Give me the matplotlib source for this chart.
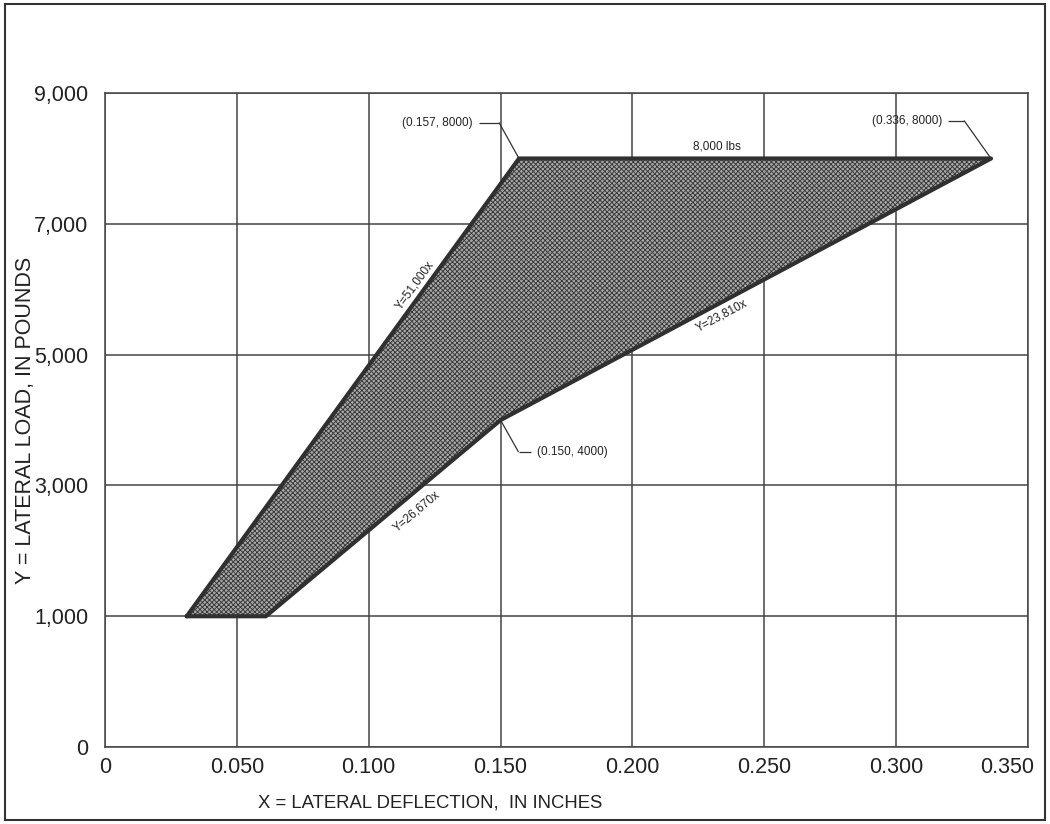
import matplotlib
matplotlib.use("Agg")
import matplotlib.pyplot as plt
import matplotlib.transforms as mtrans
import numpy as np
from matplotlib.patches import Polygon, Rectangle

plt.rcParams['font.family'] = ['Liberation Sans', 'DejaVu Sans']
plt.rcParams['hatch.linewidth'] = 0.7

# Data: envelope vertices (deflection in inches, load in pounds)
env_x = [0.031, 0.157, 0.336, 0.150, 0.061]
env_y = [1000, 8000, 8000, 4000, 1000]

x_ticks = [0, 0.05, 0.10, 0.15, 0.20, 0.25, 0.30, 0.35]
x_ticklabels = ['0', '0.050', '0.100', '0.150', '0.200', '0.250', '0.300', '0.350']
# the bottom row of the original grid is labelled 0 (one grid step below 1,000)
y_ticks = [-1000, 1000, 3000, 5000, 7000, 9000]
y_ticklabels = ['0', '1,000', '3,000', '5,000', '7,000', '9,000']

vertex_labels = ['(0.157, 8000)', '(0.336, 8000)', '(0.150, 4000)']
edge_labels = ['Y=51,000x', 'Y=23,810x', 'Y=26,670x']
top_label = '8,000 lbs'

fig = plt.figure(figsize=(10.5, 8.24), dpi=100)
fig.patch.set_facecolor('white')
ax = fig.add_axes([0.100, 0.0934, 0.879, 0.7936])
ax.set_xlim(0, 0.35)
ax.set_ylim(-1000, 9000)

ax.set_xticks(x_ticks)
ax.set_xticklabels(x_ticklabels, fontsize=15.5, color='#222222')
ax.set_yticks(y_ticks)
ax.set_yticklabels(y_ticklabels, fontsize=15.5, color='#222222')
ax.tick_params(length=0, pad=7)
ax.tick_params(axis='y', pad=12)
lab = ax.get_xticklabels()[-1]
lab.set_transform(lab.get_transform() + mtrans.ScaledTranslation(-0.21, 0, fig.dpi_scale_trans))
ax.grid(True, color='#444444', linewidth=1.1)
ax.set_axisbelow(True)
for s in ax.spines.values():
    s.set_color('#444444')
    s.set_linewidth(1.1)

pts = np.column_stack([env_x, env_y])
poly = Polygon(pts, closed=True, facecolor='#a9a9a9', edgecolor='#3c3c3c',
               hatch='xxxxxxx', linewidth=0, zorder=3)
ax.add_patch(poly)
ax.plot(env_x + [env_x[0]], env_y + [env_y[0]], color='#303030', lw=3,
        solid_joinstyle='round', solid_capstyle='round', zorder=4)

tf = ax.transData
inv = ax.transData.inverted()


def seg(xy, p1, p2):
    x0, y0 = tf.transform(xy)
    a = inv.transform((x0 + p1[0], y0 + p1[1]))
    b = inv.transform((x0 + p2[0], y0 + p2[1]))
    ax.plot([a[0], b[0]], [a[1], b[1]], color='#333333', lw=0.9, zorder=5,
            solid_capstyle='butt')


def vlabel(xy, text, off, ha):
    ax.annotate(text, xy=xy, xytext=off, textcoords='offset pixels',
                ha=ha, va='center', fontsize=8.5, color='#222222', zorder=6)


v1 = (env_x[1], env_y[1])
v2 = (env_x[2], env_y[2])
v3 = (env_x[3], env_y[3])
seg(v1, (0, 0), (-20, 36)); seg(v1, (-20, 36), (-40, 36))
vlabel(v1, vertex_labels[0], (-46, 36), 'right')
seg(v2, (0, 0), (-27, 38)); seg(v2, (-27, 38), (-43, 38))
vlabel(v2, vertex_labels[1], (-49, 38), 'right')
seg(v3, (0, 0), (18, -32)); seg(v3, (18, -32), (30, -32))
vlabel(v3, vertex_labels[2], (36, -32), 'left')

# 8,000 lbs label above the top edge
P = tf.transform(v1); Q = tf.transform(v2)
tp = inv.transform((P[0] + 0.42 * (Q[0] - P[0]), P[1] + 6))
ax.text(tp[0], tp[1], top_label, ha='center', va='bottom', fontsize=8.5,
        color='#222222', zorder=6)

# edge labels rotated along edges: (start vertex, end vertex, fraction, perpendicular offset px)
edges = [((env_x[0], env_y[0]), v1, 0.71, 10),
         (v3, v2, 0.44, -12),
         ((env_x[4], env_y[4]), v3, 0.60, -16)]
for (p, q, frac, off), t in zip(edges, edge_labels):
    P = tf.transform(p); Q = tf.transform(q)
    ang = np.degrees(np.arctan2(Q[1] - P[1], Q[0] - P[0]))
    d = (Q - P) / np.linalg.norm(Q - P)
    n = np.array([-d[1], d[0]])
    pos = P + frac * (Q - P) + off * n
    dp = inv.transform(pos)
    ax.text(dp[0], dp[1], t, rotation=ang, rotation_mode='anchor',
            ha='center', va='center', fontsize=8.5, color='#222222', zorder=6)

fig.text(258 / 1050, 1 - 803 / 824, 'X = LATERAL DEFLECTION,  IN INCHES',
         ha='left', va='center', fontsize=13.3, color='#222222')
fig.text(26 / 1050, 1 - 420 / 824, 'Y = LATERAL LOAD, IN POUNDS', rotation=90,
         ha='center', va='center', fontsize=15.5, color='#222222')

fig.add_artist(Rectangle((5 / 1050, 4 / 824), 1040 / 1050, 816 / 824,
                         transform=fig.transFigure, fill=False,
                         edgecolor='#333333', linewidth=1.5))

fig.savefig('out.png', dpi=100)
